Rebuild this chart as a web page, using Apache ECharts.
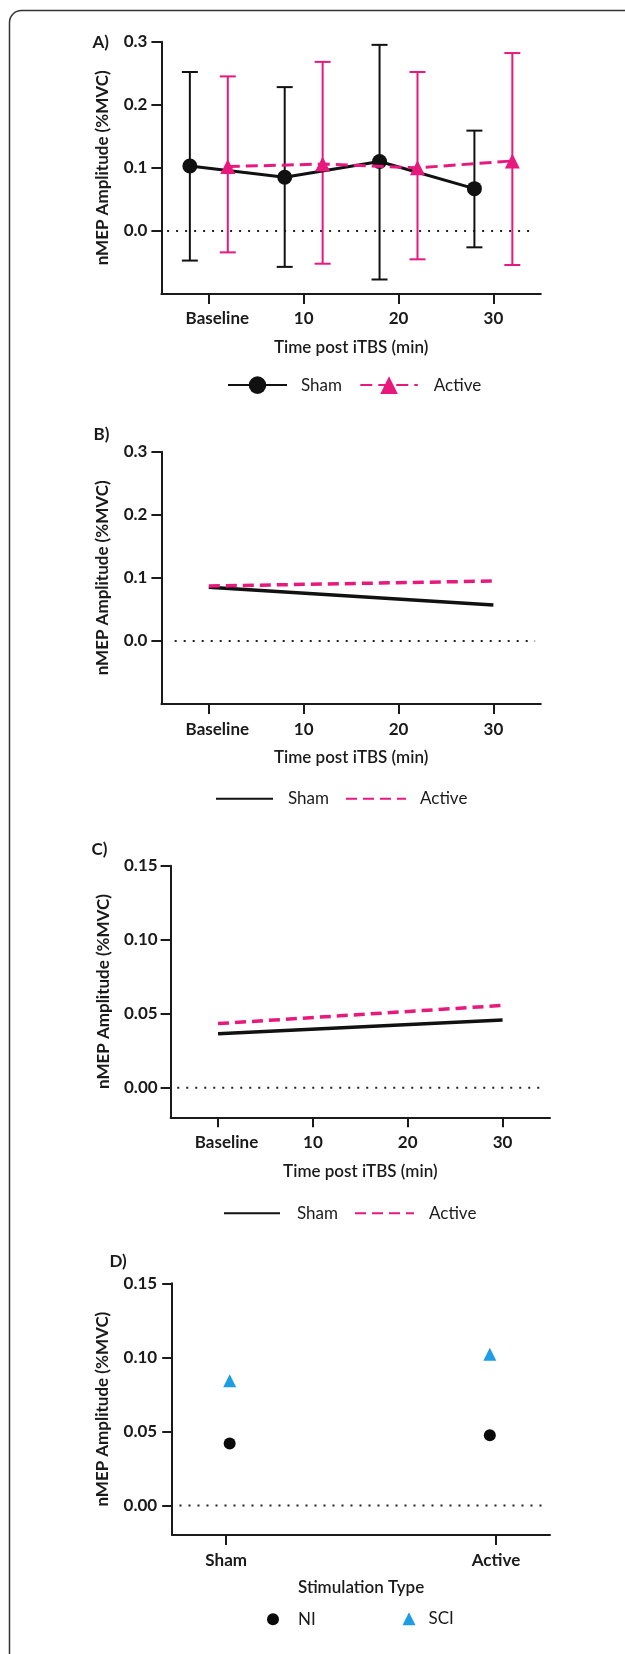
<!DOCTYPE html>
<html>
<head>
<meta charset="utf-8">
<script src="https://cdn.jsdelivr.net/npm/echarts@6/dist/echarts.min.js"></script>
<style>
html,body{margin:0;padding:0;background:#fff;}
#chart{width:625px;height:1654px;}
</style>
</head>
<body>
<div id="chart"></div>
<script>
// ---------------- DATA ----------------
const timeTicks = [0, 10, 20, 30];
const timeTickLabels = ['Baseline', '10', '20', '30'];
const yTicksAB = [0, 0.1, 0.2, 0.3];
const yTicksCD = [0, 0.05, 0.10, 0.15];

// Panel A: means with error bars (points offset ±2 min around each time)
const aShamX = [-2, 8, 18, 28];
const aShamMean = [0.103, 0.085, 0.110, 0.067];
const aShamUpper = [0.252, 0.228, 0.295, 0.159];
const aShamLower = [-0.047, -0.057, -0.077, -0.026];
const aActiveX = [2, 12, 22, 32];
const aActiveMean = [0.102, 0.106, 0.100, 0.111];
const aActiveUpper = [0.245, 0.268, 0.252, 0.282];
const aActiveLower = [-0.034, -0.052, -0.045, -0.054];

// Panel B: fitted lines
const bX = [0, 30];
const bSham = [0.085, 0.057];
const bActive = [0.087, 0.095];

// Panel C: fitted lines
const cX = [0, 30];
const cSham = [0.0365, 0.0457];
const cActive = [0.0433, 0.0556];

// Panel D: group means
const dCategories = ['Sham', 'Active'];
const dX = [0.013, 0.977];
const dNI = [0.0418, 0.0474];
const dSCI = [0.0842, 0.1021];

// zero reference line extents (x range) per panel
const zeroA = [-4.4, 34.4];
const zeroB = [-3.6, 34.4];
const zeroC = [-4.3, 34.4];
const zeroD = [-0.173, 1.178];

// ---------------- STYLE ----------------
const FONT = 'Lato';
const INK = '#1a1a1a';
const PINK = '#e8197d';
const BLUE = '#1c9de6';
const axisLineStyle = {color: INK, width: 2};
const tickFont = {fontFamily: FONT, fontSize: 17, fontWeight: 'bold', color: INK, lineHeight: 20};

function xTimeAxis(gridIndex, labelMargin, nameGap) {
  return {
    type: 'value', gridIndex, min: -5, max: 35,
    name: 'Time post iTBS (min)', nameLocation: 'middle', nameGap,
    nameTextStyle: {fontFamily: FONT, fontSize: 17, fontWeight: 600, color: INK, lineHeight: 20},
    axisLine: {show: true, onZero: false, lineStyle: axisLineStyle},
    axisTick: {show: true, length: 10, customValues: timeTicks, lineStyle: axisLineStyle},
    axisLabel: Object.assign({
      customValues: timeTicks,
      formatter: v => {
        const t = timeTickLabels[timeTicks.indexOf(v)];
        return v === timeTicks[0] ? '{base|' + t + '}' : t;
      },
      rich: {base: Object.assign({padding: [0, 0, 0, 17]}, tickFont)},
      margin: labelMargin
    }, tickFont),
    splitLine: {show: false}, minorTick: {show: false}
  };
}
function yAmpAxis(gridIndex, min, max, ticks, dec, nameGap, labelMargin) {
  return {
    type: 'value', gridIndex, min, max,
    name: 'nMEP Amplitude (%MVC)', nameLocation: 'middle', nameGap,
    nameTextStyle: {fontFamily: FONT, fontSize: 17, fontWeight: 'bold', color: INK, lineHeight: 20},
    axisLine: {show: true, onZero: false, lineStyle: axisLineStyle},
    axisTick: {show: true, length: 10, customValues: ticks, lineStyle: axisLineStyle},
    axisLabel: {
      customValues: ticks, formatter: v => v.toFixed(dec),
      margin: labelMargin, fontFamily: FONT, fontSize: 17, fontWeight: 'bold', color: INK
    },
    splitLine: {show: false}, minorTick: {show: false}
  };
}
function errRender(color) {
  return function (params, api) {
    const x = api.value(0), lo = api.value(1), hi = api.value(2);
    const pLo = api.coord([x, lo]);
    const pHi = api.coord([x, hi]);
    const half = 8;
    const style = {stroke: color, lineWidth: 2};
    return {
      type: 'group',
      children: [
        {type: 'line', shape: {x1: pLo[0], y1: pLo[1], x2: pHi[0], y2: pHi[1]}, style},
        {type: 'line', shape: {x1: pHi[0] - half, y1: pHi[1], x2: pHi[0] + half, y2: pHi[1]}, style},
        {type: 'line', shape: {x1: pLo[0] - half, y1: pLo[1], x2: pLo[0] + half, y2: pLo[1]}, style}
      ]
    };
  };
}
function zeroLine(idx, ext) {
  return {
    type: 'line', xAxisIndex: idx, yAxisIndex: idx,
    data: [[ext[0], 0], [ext[1], 0]], symbol: 'none', silent: true, z: 1,
    lineStyle: {color: '#222', width: 2, type: [2, 7]}
  };
}
function lg(name, left, top, w, h, pad, extra) {
  return Object.assign({
    data: [name], left, top, itemWidth: w, itemHeight: h, padding: 0,
    selectedMode: false, formatter: n => n.split(' ')[0],
    textStyle: {fontFamily: FONT, fontSize: 17, fontWeight: 'normal', color: INK, padding: [0, 0, 0, pad]}
  }, extra || {});
}
const zip = (xs, ys) => xs.map((x, i) => [x, ys[i]]);

const option = {
  animation: false,
  backgroundColor: '#fff',
  grid: [
    {left: 161.4, top: 41.7, width: 379.4, height: 252.3},
    {left: 161.4, top: 451.7, width: 379.4, height: 252.3},
    {left: 170.6, top: 865.7, width: 379.4, height: 251.6},
    {left: 172.2, top: 1283.3, width: 377.8, height: 251.7}
  ],
  xAxis: [
    xTimeAxis(0, 15, 44),
    xTimeAxis(1, 16, 44),
    xTimeAxis(2, 15, 44),
    {
      type: 'value', gridIndex: 3, min: -0.2, max: 1.2,
      name: 'Stimulation Type', nameLocation: 'middle', nameGap: 43,
      nameTextStyle: {fontFamily: FONT, fontSize: 17, fontWeight: 600, color: INK, lineHeight: 20},
      axisLine: {show: true, onZero: false, lineStyle: axisLineStyle},
      axisTick: {show: true, length: 10, customValues: [0, 1], lineStyle: axisLineStyle},
      axisLabel: Object.assign({
        customValues: [0, 1], formatter: v => dCategories[Math.round(v)], margin: 16
      }, tickFont),
      splitLine: {show: false}, minorTick: {show: false}
    }
  ],
  yAxis: [
    yAmpAxis(0, -0.1, 0.3, yTicksAB, 1, 44, 14),
    yAmpAxis(1, -0.1, 0.3, yTicksAB, 1, 44, 14),
    yAmpAxis(2, -0.02, 0.15, yTicksCD, 2, 52, 13),
    yAmpAxis(3, -0.02, 0.15, yTicksCD, 2, 52, 15)
  ],
  legend: [
    lg('Sham A', 227, 376.3, 59, 22, 9),
    lg('Active A', 359.3, 376.3, 57.5, 22, 11),
    lg('Sham B', 215, 790.3, 57, 14, 10, {itemStyle: {opacity: 0}}),
    lg('Active B', 345, 790.3, 60, 14, 9, {itemStyle: {opacity: 0}}),
    lg('Sham C', 223, 1204.7, 56, 14, 12, {itemStyle: {opacity: 0}}),
    lg('Active C', 354, 1204.7, 59, 14, 10, {itemStyle: {opacity: 0}}),
    lg('NI D', 267, 1610.7, 12, 12, 14),
    lg('SCI D', 402.5, 1610.2, 13, 13, 8)
  ],
  graphic: [
    {type: 'rect', silent: true, z: -10,
     shape: {x: 9.5, y: 10.5, width: 700, height: 1720, r: 12},
     style: {fill: 'none', stroke: '#333', lineWidth: 1.5}},
    {type: 'text', x: 92.5, y: 42.7, style: {text: 'A)', fontFamily: FONT, fontSize: 17, fontWeight: 'bold', fill: INK, verticalAlign: 'middle'}},
    {type: 'text', x: 93.5, y: 435, style: {text: 'B)', fontFamily: FONT, fontSize: 17, fontWeight: 'bold', fill: INK, verticalAlign: 'middle'}},
    {type: 'text', x: 91.5, y: 850, style: {text: 'C)', fontFamily: FONT, fontSize: 17, fontWeight: 'bold', fill: INK, verticalAlign: 'middle'}},
    {type: 'text', x: 109.5, y: 1261.7, style: {text: 'D)', fontFamily: FONT, fontSize: 17, fontWeight: 'bold', fill: INK, verticalAlign: 'middle'}}
  ],
  series: [
    // Panel A
    zeroLine(0, zeroA),
    {type: 'custom', name: 'errSham', xAxisIndex: 0, yAxisIndex: 0, z: 2, silent: true,
     renderItem: errRender('#111'), encode: {x: 0, y: [1, 2]},
     data: aShamX.map((x, i) => [x, aShamLower[i], aShamUpper[i]])},
    {type: 'custom', name: 'errActive', xAxisIndex: 0, yAxisIndex: 0, z: 2, silent: true,
     renderItem: errRender(PINK), encode: {x: 0, y: [1, 2]},
     data: aActiveX.map((x, i) => [x, aActiveLower[i], aActiveUpper[i]])},
    {type: 'line', name: 'Sham A', xAxisIndex: 0, yAxisIndex: 0, z: 5,
     data: zip(aShamX, aShamMean), symbol: 'circle', symbolSize: 15,
     lineStyle: {color: '#111', width: 3}, itemStyle: {color: '#111', opacity: 1}},
    {type: 'line', name: 'Active A', xAxisIndex: 0, yAxisIndex: 0, z: 6,
     data: zip(aActiveX, aActiveMean), symbol: 'triangle', symbolSize: 15,
     lineStyle: {color: PINK, width: 3, type: [12, 6]}, itemStyle: {color: PINK, opacity: 1}},
    // Panel B
    zeroLine(1, zeroB),
    {type: 'line', name: 'Sham B', xAxisIndex: 1, yAxisIndex: 1, z: 5,
     data: zip(bX, bSham), symbol: 'none',
     lineStyle: {color: '#111', width: 3.5}, itemStyle: {color: '#111'}},
    {type: 'line', name: 'Active B', xAxisIndex: 1, yAxisIndex: 1, z: 6,
     data: zip(bX, bActive), symbol: 'none',
     lineStyle: {color: PINK, width: 3.5, type: [11, 6]}, itemStyle: {color: PINK}},
    // Panel C
    zeroLine(2, zeroC),
    {type: 'line', name: 'Sham C', xAxisIndex: 2, yAxisIndex: 2, z: 5,
     data: zip(cX, cSham), symbol: 'none',
     lineStyle: {color: '#111', width: 3.5}, itemStyle: {color: '#111'}},
    {type: 'line', name: 'Active C', xAxisIndex: 2, yAxisIndex: 2, z: 6,
     data: zip(cX, cActive), symbol: 'none',
     lineStyle: {color: PINK, width: 3.5, type: [11, 6]}, itemStyle: {color: PINK}},
    // Panel D
    zeroLine(3, zeroD),
    {type: 'scatter', name: 'NI D', xAxisIndex: 3, yAxisIndex: 3, z: 5,
     data: zip(dX, dNI), symbol: 'circle', symbolSize: 12, itemStyle: {color: '#0a0a0a', opacity: 1}},
    {type: 'scatter', name: 'SCI D', xAxisIndex: 3, yAxisIndex: 3, z: 5,
     data: zip(dX, dSCI), symbol: 'triangle', symbolSize: 13, itemStyle: {color: BLUE, opacity: 1}}
  ]
};

const chart = echarts.init(document.getElementById('chart'), null, {renderer: 'canvas'});
chart.setOption(option);
</script>
</body>
</html>
